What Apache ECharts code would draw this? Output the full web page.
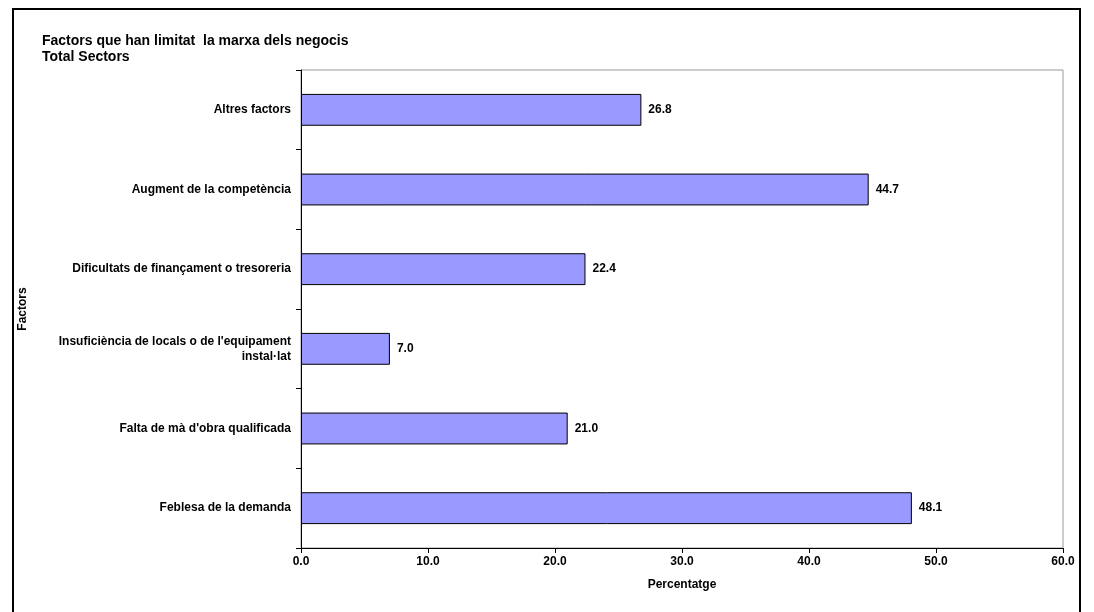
<!DOCTYPE html>
<html><head><meta charset="utf-8">
<script src="https://cdn.jsdelivr.net/npm/echarts@6/dist/echarts.min.js"></script>
<style>html,body{margin:0;padding:0;background:#fff}#c{width:1094px;height:612px}
#box{position:absolute;left:12px;top:8px;width:1069px;height:610px;border:2px solid #000;box-sizing:border-box;pointer-events:none}</style>
</head><body><div id="c"></div><div id="box"></div>
<script>
const categories = ["Feblesa de la demanda","Falta de mà d'obra qualificada","Insuficiència de locals o de l'equipament\ninstal·lat","Dificultats de finançament o tresoreria","Augment de la competència","Altres factors"];
const values = [48.1,21.0,7.0,22.4,44.7,26.8];
const chart = echarts.init(document.getElementById('c'));
const f = 'Arial, "Liberation Sans", sans-serif';
chart.setOption({
  animation:false,
  title:{text:'Factors que han limitat  la marxa dels negocis\nTotal Sectors',left:37,top:28,
    textStyle:{fontFamily:f,fontSize:14,fontWeight:'bold',color:'#000',lineHeight:16}},
  grid:{left:301,right:31,top:70,bottom:64,show:true,borderColor:'#999',borderWidth:1},
  xAxis:{type:'value',min:0,max:60,interval:10,name:'Percentatge',nameLocation:'middle',nameGap:31,
    nameTextStyle:{fontFamily:f,fontSize:12,fontWeight:'bold',color:'#000'},
    axisLine:{show:true,lineStyle:{color:'#000'}},axisTick:{show:true,length:5,lineStyle:{color:'#000'}},
    splitLine:{show:false},
    axisLabel:{fontFamily:f,fontSize:12,fontWeight:'bold',color:'#000',formatter:v=>v.toFixed(1),margin:8}},
  yAxis:{type:'category',data:categories,name:'Factors',nameLocation:'middle',nameGap:272,nameRotate:90,
    nameTextStyle:{fontFamily:f,fontSize:12,fontWeight:'bold',color:'#000'},
    axisLine:{lineStyle:{color:'#000'}},axisTick:{show:true,length:5,inside:false,lineStyle:{color:'#000'}},
    axisLabel:{fontFamily:f,fontSize:12,fontWeight:'bold',color:'#000',margin:10,align:'right',lineHeight:15}},
  series:[{type:'bar',data:values,barWidth:'40%',
    itemStyle:{color:'#9999ff',borderColor:'#000',borderWidth:1},
    label:{show:true,position:'right',distance:7,formatter:p=>p.value.toFixed(1),
      fontFamily:f,fontSize:12,fontWeight:'bold',color:'#000'}}]
});
</script></body></html>
